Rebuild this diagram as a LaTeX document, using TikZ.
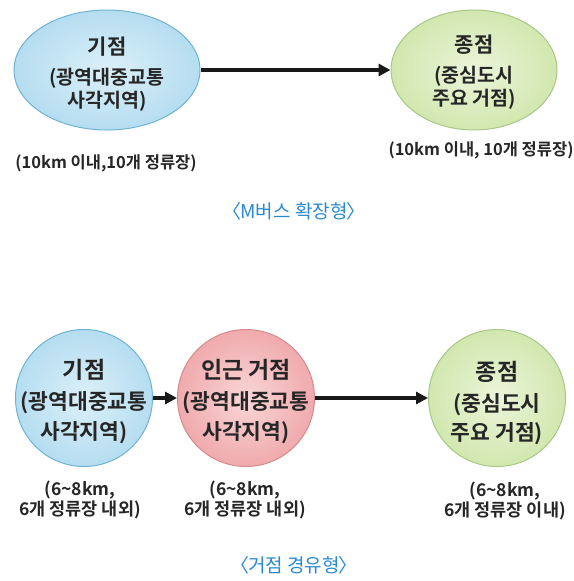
\documentclass[tikz,border=0pt]{standalone}
\usepackage{fontspec}
\setmainfont{Noto Sans CJK KR}[BoldFont={* Bold}]
\usetikzlibrary{shapes.geometric,arrows.meta}
\definecolor{bluefill}{HTML}{B5DDF0}
\definecolor{bluein}{HTML}{DCF0F9}
\definecolor{blueline}{HTML}{6FB3D2}
\definecolor{pinkfill}{HTML}{F0AAAD}
\definecolor{pinkin}{HTML}{F9D6D7}
\definecolor{pinkline}{HTML}{D68A8E}
\definecolor{greenfill}{HTML}{D2E7AF}
\definecolor{greenin}{HTML}{EBF5DA}
\definecolor{greenline}{HTML}{A7C886}
\definecolor{captionblue}{HTML}{2A8ACF}
\newcommand{\lbr}{〈\kern-1.5pt}
\newcommand{\rbr}{\kern-1.5pt〉}
\tikzset{
  x=1pt,y=-1pt,
  oval/.style={ellipse,draw,line width=1pt,inner sep=0pt},
  ball/.style={circle,draw,line width=1pt,minimum size=137,inner sep=0pt},
  title/.style={font=\bfseries\fontsize{21}{22}\selectfont,text=black!85,inner sep=0pt},
  sub/.style={font=\bfseries\fontsize{19.5}{20}\selectfont,text=black!85,inner sep=0pt},
  bigtitle/.style={font=\bfseries\fontsize{23}{24}\selectfont,text=black!85,inner sep=0pt},
  bigsub/.style={font=\bfseries\fontsize{21.5}{22}\selectfont,text=black!85,inner sep=0pt},
  note/.style={font=\bfseries\fontsize{16.5}{20}\selectfont,text=black!85,inner sep=0pt,align=center},
  note2/.style={font=\bfseries\fontsize{17.5}{20}\selectfont,text=black!85,inner sep=0pt,align=center},
  caption/.style={font=\fontsize{19}{20}\selectfont,text=captionblue,inner sep=0pt},
  link/.style={-{Triangle[length=12pt,width=12pt]},line width=4pt,black!90},
}
\begin{document}
\begin{tikzpicture}
\useasboundingbox[fill=white] (0,0) rectangle (573,581);
% top diagram
\node[oval,draw=blueline,inner color=bluein,outer color=bluefill,minimum width=186,minimum height=120] (a) at (107,70) {};
\node[oval,draw=greenline,inner color=greenin,outer color=greenfill,minimum width=166,minimum height=120] (b) at (474,70) {};
\draw[link] (a.east) -- (b.west);
\node[title] (at1) at (107,47) {기점};
\node[sub] (at2) at (107,78) {(광역대중교통};
\node[sub] (at3) at (107,101) {사각지역)};
\node[title] (bt1) at (474,45) {종점};
\node[sub] (bt2) at (474,76) {(중심도시};
\node[sub] (bt3) at (474,99) {주요 거점)};
\node[note] (an) at (106,163) {(10km 이내,10개 정류장)};
\node[note] (bn) at (481,150) {(10km 이내, 10개 정류장)};
\node[caption] (c1) at (294,211) {\lbr M버스 확장형\rbr};
% bottom diagram
\node[ball,draw=blueline,inner color=bluein,outer color=bluefill] (p) at (84,398) {};
\node[ball,draw=pinkline,inner color=pinkin,outer color=pinkfill] (q) at (246,398) {};
\node[ball,draw=greenline,inner color=greenin,outer color=greenfill] (r) at (497,398) {};
\draw[link] (p.east) -- (q.west);
\draw[link] (q.east) -- (r.west);
\node[bigtitle] (pt1) at (84,370) {기점};
\node[bigsub] (pt2) at (84,403) {(광역대중교통};
\node[bigsub] (pt3) at (84,433) {사각지역)};
\node[bigtitle] (qt1) at (246,370) {인근 거점};
\node[bigsub] (qt2) at (246,403) {(광역대중교통};
\node[bigsub] (qt3) at (246,433) {사각지역)};
\node[bigtitle] (rt1) at (497,372) {종점};
\node[bigsub] (rt2) at (497,405) {(중심도시};
\node[bigsub] (rt3) at (497,434) {주요 거점)};
\node[note2] (pn) at (80,500) {(6\textasciitilde 8km,\\6개 정류장 내외)};
\node[note2] (qn) at (245,500) {(6\textasciitilde 8km,\\6개 정류장 내외)};
\node[note2] (rn) at (505,501) {(6\textasciitilde 8km,\\6개 정류장 이내)};
\node[caption] (c2) at (294,565) {\lbr 거점 경유형\rbr};
\end{tikzpicture}
\end{document}
